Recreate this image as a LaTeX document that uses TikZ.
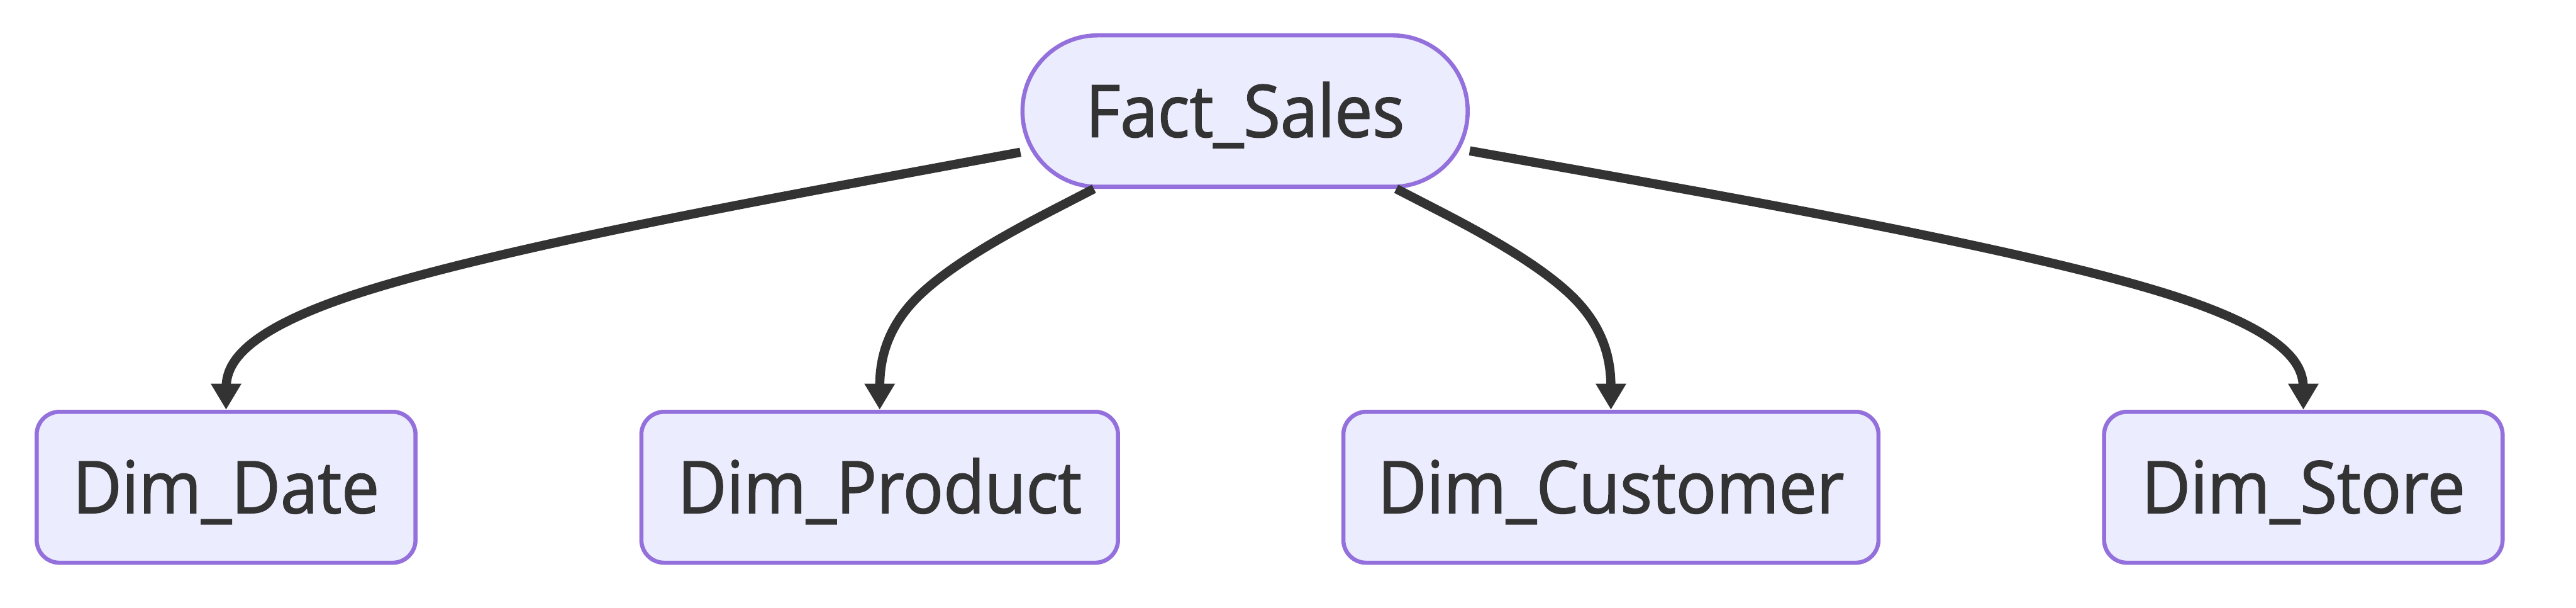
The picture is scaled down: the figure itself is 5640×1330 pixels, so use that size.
\documentclass[tikz,border=0pt]{standalone}
\usepackage{fontspec}
\setmainfont{Open Sans}[FakeStretch=0.93,FakeBold=1.5]
\usetikzlibrary{arrows.meta,calc}
\definecolor{nodefill}{HTML}{ECECFF}
\definecolor{nodeborder}{HTML}{9370DB}
\definecolor{ink}{HTML}{333333}
\begin{document}
\begin{tikzpicture}[x=0.01cm,y=-0.01cm,
  dimbox/.style={draw=nodeborder, fill=nodefill, line width=0.09cm, rounded corners=0.5cm,
    minimum height=3.3cm, inner sep=0pt, text=ink, text height=32.1pt, text depth=0pt,
    font=\fontsize{45}{54}\selectfont},
  factbox/.style={dimbox, rounded corners=1.64cm, minimum height=3.31cm},
  link/.style={draw=ink, line width=0.2cm, -{Triangle[length=0.57cm,width=0.63cm]}}]
\useasboundingbox (0,0) rectangle (5640,1330);
\node[factbox, minimum width=9.74cm] (fact) at (2726,243) {Fact\_Sales};
\node[dimbox, minimum width=8.29cm] (date) at (495,1066) {Dim\_Date};
\node[dimbox, minimum width=10.43cm] (product) at (1926,1066) {Dim\_Product};
\node[dimbox, minimum width=11.71cm] (customer) at (3527,1066) {Dim\_Customer};
\node[dimbox, minimum width=8.72cm] (store) at (5043,1066) {Dim\_Store};
% start points on the bounding box of Fact_Sales
\coordinate (s1) at ($(fact.west)+(0,90)$);
\coordinate (s2) at ($(fact.south)+(-331,0)$);
\coordinate (s3) at ($(fact.south)+(331,0)$);
\coordinate (s4) at ($(fact.east)+(0,87)$);
% middle (rank) points above each target
\coordinate (m1) at (date.north |- 0,655);
\coordinate (m2) at (product.north |- 0,655);
\coordinate (m3) at (customer.north |- 0,655);
\coordinate (m4) at (store.north |- 0,655);
\foreach \s/\m/\t in {s1/m1/date, s2/m2/product, s3/m3/customer, s4/m4/store}{
  \draw[link] (\s) -- ($(\s)!1/6!(\m)$)
    .. controls ($(\s)!1/3!(\m)$) and ($(\s)!2/3!(\m)$) .. ($(\m)!1/3!($(\s)!0.5!(\t.north)$)$)
    .. controls ($(\m)!1/3!(\t.north)$) and ($(\m)!2/3!(\t.north)$) .. ($(\m)!5/6!(\t.north)$)
    -- (\t.north);
}
\end{tikzpicture}
\end{document}
